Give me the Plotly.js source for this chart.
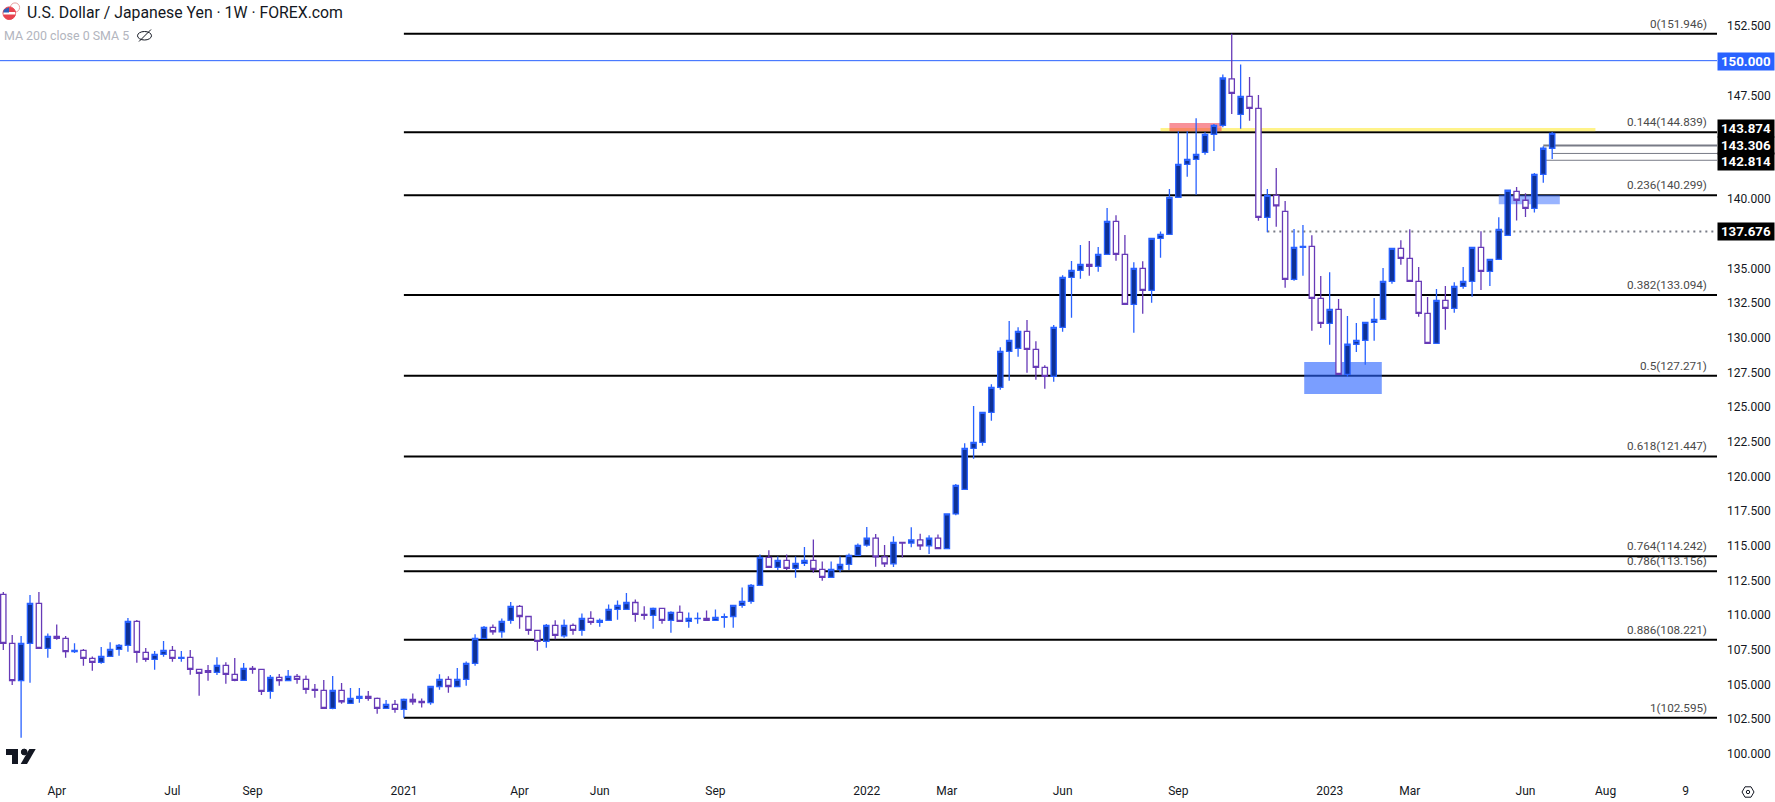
<!DOCTYPE html>
<html>
<head>
<meta charset="utf-8">
<title>USD/JPY weekly</title>
<script src="https://cdn.plot.ly/plotly-3.0.1.min.js"></script>
<style>
  html, body { margin: 0; padding: 0; background: #fff; overflow: hidden; }
  #myDiv { width: 1775px; height: 802px; }
</style>
</head>
<body>
<div id="myDiv"></div>
<script>
// weekly candles
var firstWeek = Date.UTC(2020, 1, 24);
var weekCount = 175;

var open = [
  111.50,107.96,105.27,107.96,110.85,107.60,108.46,108.32,107.36,107.45,
  106.88,106.59,107.02,107.53,107.81,109.55,107.31,106.80,107.16,107.45,
  106.88,106.95,106.08,105.99,105.87,106.37,105.72,105.29,106.15,106.08,
  104.50,105.51,105.27,105.58,105.36,104.64,104.57,103.27,104.57,103.63,
  103.99,104.13,103.99,103.27,103.56,103.20,103.92,103.77,103.68,104.85,
  105.36,104.85,105.36,106.51,108.32,109.11,108.80,109.62,110.63,109.90,
  108.90,108.10,109.26,108.51,109.26,108.90,109.76,109.47,109.62,110.41,
  110.41,110.91,110.05,109.98,110.48,109.62,110.19,109.54,109.74,109.76,
  109.62,109.83,109.90,110.70,110.99,112.14,114.16,113.44,113.95,113.37,
  113.73,113.95,113.30,112.72,113.30,113.66,114.31,115.05,115.55,114.20,
  113.70,115.25,115.20,115.42,115.00,115.55,114.80,117.30,119.07,122.03,
  122.46,124.63,126.43,129.03,129.24,130.47,129.17,127.87,127.22,130.76,
  134.37,134.87,135.30,135.16,136.03,138.41,136.03,132.42,135.02,133.43,
  137.18,137.47,140.14,142.52,142.88,143.38,144.68,145.33,148.68,146.12,
  147.43,146.56,138.69,140.28,139.13,134.22,136.53,136.60,132.85,131.05,
  132.06,127.37,129.54,129.82,131.12,131.34,134.08,136.46,135.74,134.08,
  131.77,129.61,132.71,132.13,133.72,134.08,136.53,134.80,135.67,137.40,
  140.57,139.93,139.35,141.80,143.68
];
var high = [
  111.66,108.56,108.49,111.45,111.66,108.68,109.33,108.49,107.96,107.55,
  107.02,107.69,108.05,107.91,109.79,109.64,107.62,107.41,108.13,107.77,
  107.41,107.48,106.08,106.40,106.95,106.59,106.90,106.54,106.32,106.08,
  105.67,105.75,106.03,105.75,105.65,105.02,105.31,105.60,105.10,104.74,
  104.74,104.52,104.06,103.87,103.87,103.99,104.35,103.99,104.85,105.74,
  105.58,106.18,106.66,108.61,109.21,109.33,109.76,110.94,110.72,109.90,
  108.90,109.35,109.62,109.69,109.40,110.12,110.27,109.76,110.77,111.06,
  111.59,111.13,110.63,110.55,110.48,110.27,110.70,110.19,110.19,110.34,
  110.41,110.12,110.70,112.00,112.24,114.38,114.67,114.23,114.38,114.23,
  114.91,115.46,113.87,113.87,114.23,114.45,115.17,116.35,115.85,115.06,
  115.68,115.25,116.34,115.86,115.76,115.81,117.35,119.45,122.39,125.08,
  124.63,126.65,129.32,131.22,130.76,131.29,129.75,128.02,130.93,134.51,
  135.54,136.70,136.99,136.55,139.37,138.84,137.42,135.45,135.52,137.18,
  137.68,140.74,144.90,144.90,145.84,144.83,145.43,149.00,151.946,149.73,
  148.82,147.52,140.74,142.25,139.87,137.86,138.15,137.40,134.47,134.73,
  132.81,131.58,131.08,131.12,132.88,135.04,136.46,137.04,137.83,135.12,
  132.95,133.53,133.74,134.01,135.12,136.53,137.69,135.67,138.70,140.65,
  140.89,140.43,141.90,143.82,144.86
];
var low = [
  107.48,104.95,101.15,105.12,107.60,106.92,108.22,106.92,107.26,106.35,
  105.99,106.49,107.02,107.07,107.36,106.56,106.64,106.06,107.00,106.64,
  106.64,105.70,104.18,105.27,105.67,105.05,105.22,105.29,105.77,104.23,
  103.97,104.90,105.27,105.05,104.33,104.04,103.22,103.20,103.61,103.63,
  103.68,103.82,102.88,103.27,102.96,102.60,103.53,103.34,103.53,104.61,
  104.40,104.85,104.90,106.35,108.32,108.58,108.37,109.38,109.01,108.58,
  107.43,107.64,108.25,108.37,108.58,108.51,109.30,109.16,109.62,109.66,
  110.41,109.52,109.66,109.01,109.38,108.73,109.54,109.09,109.38,109.62,
  109.62,109.09,109.09,110.53,110.82,112.14,113.44,113.25,113.25,112.69,
  113.54,113.06,112.48,112.72,113.10,113.25,114.31,114.93,113.48,113.47,
  113.47,114.16,114.90,114.70,114.40,114.80,114.80,117.20,119.07,121.28,
  122.22,124.02,126.26,126.91,128.64,127.49,126.98,126.33,126.84,130.45,
  131.46,134.27,134.49,134.77,136.03,135.57,132.42,130.37,131.74,132.54,
  135.78,137.47,140.14,141.63,140.33,143.21,143.48,145.19,146.15,145.09,
  145.67,138.45,137.63,138.02,133.62,134.13,134.49,130.52,130.71,129.51,
  127.37,127.20,128.98,128.07,129.80,131.34,133.91,135.28,134.08,131.53,
  129.61,129.61,130.59,131.82,133.55,132.97,133.46,133.74,135.67,137.40,
  138.46,138.72,139.04,141.20,142.91
];
var close = [
  107.96,105.27,107.96,110.85,107.60,108.46,108.32,107.36,107.45,106.88,
  106.59,107.02,107.53,107.81,109.55,107.31,106.80,107.16,107.45,106.88,
  106.95,106.08,105.79,105.87,106.37,105.72,105.29,106.15,106.08,104.50,
  105.51,105.27,105.58,105.36,104.64,104.57,103.27,104.57,103.75,103.99,
  104.13,103.99,103.27,103.56,103.20,103.92,103.75,103.68,104.85,105.36,
  104.85,105.36,106.51,108.32,109.11,108.80,109.54,110.63,109.90,108.90,
  108.10,109.26,108.53,109.26,108.90,109.76,109.47,109.62,110.41,110.70,
  110.91,110.05,109.98,110.48,109.62,110.19,109.54,109.76,109.76,109.62,
  109.83,109.88,110.70,110.99,112.14,114.16,113.44,113.95,113.37,113.73,
  113.95,113.30,112.72,113.30,113.66,114.31,115.03,115.55,114.20,113.70,
  115.25,115.20,115.42,115.00,115.55,114.80,117.30,119.36,122.03,122.46,
  124.63,126.43,129.03,129.82,130.47,129.17,127.87,127.22,130.76,134.37,
  134.87,135.30,135.16,136.03,138.41,136.03,132.42,135.02,133.43,137.18,
  137.47,140.14,142.52,142.88,143.24,144.68,145.33,148.75,147.64,147.43,
  146.56,138.69,140.28,139.53,134.22,136.53,136.60,132.85,131.05,132.06,
  127.37,129.54,129.82,131.12,131.34,134.08,136.46,135.74,134.08,131.77,
  129.61,132.71,132.13,133.72,134.08,136.53,134.80,135.67,137.83,140.65,
  139.93,139.35,141.80,143.68,144.76
];

// fib retracement levels drawn from the Jan 2021 low
var fibRatios = ['0','0.144','0.236','0.382','0.5','0.618','0.764','0.786','0.886','1'];
var fibLevels = [151.946,144.839,140.299,133.094,127.271,121.447,114.242,113.156,108.221,102.595];

// axis labels
var priceTicks = [152.5,147.5,140,135,132.5,130,127.5,125,122.5,120,117.5,115,112.5,110,107.5,105,102.5,100];
var timeTicks = ['2020-04-06','2020-07-06','2020-09-07','2021-01-04','2021-04-05','2021-06-07','2021-09-06','2022-01-03','2022-03-07','2022-06-06','2022-09-05','2023-01-02','2023-03-06','2023-06-05','2023-08-07','2023-10-09'];
var timeLabels = ['Apr','Jul','Sep','2021','Apr','Jun','Sep','2022','Mar','Jun','Sep','2023','Mar','Jun','Aug','9'];

var weeks = [];
for (var i = 0; i < weekCount; i++) {
  weeks.push(new Date(firstWeek + i * 7 * 86400000).toISOString().slice(0, 10));
}

var plotW = 1717, plotH = 772;
var xStart = '2020-02-21 09:36', xEnd = '2023-11-02 14:24';
var textFont = 'Roboto, sans-serif';
var ink = '#131722';

function X(px) { return px / plotW; }
function Y(py) { return 1 - py / plotH; }
function pxPath(pts, closed) {
  var s = pts.map(function (p, i) { return (i ? 'L' : 'M') + X(p[0]) + ' ' + Y(p[1]); }).join(' ');
  return s + (closed ? ' Z' : '');
}
function pxDot(cx, cy, r, fill, stroke) {
  return { type: 'circle', xref: 'paper', yref: 'paper', x0: X(cx - r), x1: X(cx + r), y0: Y(cy + r), y1: Y(cy - r),
    fillcolor: fill, line: { color: stroke || fill, width: 1 } };
}
function pxShape(pts, fill) {
  return { type: 'path', xref: 'paper', yref: 'paper', path: pxPath(pts, true), fillcolor: fill, line: { width: 0 } };
}

var shapes = [];
// fib lines go first, the zones sit on top of them
fibLevels.forEach(function (lv) {
  shapes.push({ type: 'line', layer: 'below', xref: 'x', yref: 'y', x0: '2021-01-04', x1: xEnd, y0: lv, y1: lv, line: { color: '#000', width: 2 } });
});
shapes.push({ type: 'line', layer: 'below', xref: 'paper', yref: 'y', x0: 0, x1: 1, y0: 150, y1: 150, line: { color: '#2962FF', width: 1 } });
shapes.push({ type: 'line', layer: 'below', xref: 'x', yref: 'y', x0: weeks[142], x1: xEnd, y0: 137.676, y1: 137.676, line: { color: '#787B86', width: 2, dash: '2px,4px' } });
shapes.push({ type: 'line', layer: 'below', xref: 'x', yref: 'y', x0: weeks[173], x1: xEnd, y0: 143.874, y1: 143.874, line: { color: '#787B86', width: 2 } });
shapes.push({ type: 'line', layer: 'below', xref: 'x', yref: 'y', x0: weeks[174], x1: xEnd, y0: 143.306, y1: 143.306, line: { color: '#787B86', width: 1 } });
shapes.push({ type: 'line', layer: 'below', xref: 'x', yref: 'y', x0: weeks[173], x1: xEnd, y0: 142.814, y1: 142.814, line: { color: '#787B86', width: 1 } });
shapes.push({ type: 'rect', layer: 'below', xref: 'x', yref: 'y', x0: '2022-08-22', x1: '2023-07-30', y0: 144.91, y1: 145.14, fillcolor: 'rgba(255,235,59,0.6)', line: { width: 0 } });
shapes.push({ type: 'rect', layer: 'below', xref: 'x', yref: 'y', x0: '2022-08-29', x1: '2022-10-09', y0: 144.91, y1: 145.5, fillcolor: 'rgba(242,54,69,0.55)', line: { width: 0 } });
shapes.push({ type: 'rect', layer: 'below', xref: 'x', yref: 'y', x0: '2022-12-13', x1: '2023-02-12', y0: 125.95, y1: 128.26, fillcolor: 'rgba(41,98,255,0.62)', line: { width: 0 } });
shapes.push({ type: 'rect', layer: 'below', xref: 'x', yref: 'y', x0: '2023-05-15', x1: '2023-07-02', y0: 139.65, y1: 140.3, fillcolor: 'rgba(41,98,255,0.48)', line: { width: 0 } });

// flag
shapes.push(pxDot(15, 7.5, 4.6, '#ffffff', '#e8a0a0'));
shapes.push(pxDot(9.3, 13.2, 6.3, '#e8434f'));
shapes.push(pxShape([[3.6, 12], [15.2, 12], [15.4, 14.6], [3.3, 14.6]], '#ffffff'));
shapes.push(pxShape([[4, 9.6], [9, 7.2], [9, 12.6], [3.2, 12.6]], '#2f5fb8'));
// hidden-eye icon next to the MA legend
shapes.push({ type: 'circle', xref: 'paper', yref: 'paper', x0: X(137.5), x1: X(151.5), y0: Y(40), y1: Y(31.5), line: { color: ink, width: 1 } });
shapes.push({ type: 'line', xref: 'paper', yref: 'paper', x0: X(139), x1: X(151), y0: Y(41.5), y1: Y(29.5), line: { color: ink, width: 1 } });
// TV logo
shapes.push(pxShape([[6, 749], [18, 749], [18, 764], [12, 764], [12, 755], [6, 755]], ink));
shapes.push(pxDot(24.2, 752, 2.9, ink));
shapes.push(pxShape([[29.3, 749], [35.7, 749], [27, 764], [20.7, 764]], ink));
// settings icon
shapes.push({ type: 'path', xref: 'paper', yref: 'paper', path: pxPath([[1742, 792], [1745, 786.8], [1751, 786.8], [1754, 792], [1751, 797.2], [1745, 797.2]], true), line: { color: ink, width: 1 } });
shapes.push(pxDot(1748, 792, 1.7, 'rgba(0,0,0,0)', ink));

var annotations = [];
fibRatios.forEach(function (r, k) {
  annotations.push({ xref: 'paper', yref: 'y', x: 1, y: fibLevels[k], xshift: -9, yshift: 10, xanchor: 'right', showarrow: false,
    text: r + '(' + fibLevels[k].toFixed(3) + ')', font: { family: textFont, size: 11.7, color: '#4a4a4a' }, borderpad: 0 });
});
function priceTag(txt, py, bg) {
  annotations.push({ xref: 'paper', yref: 'paper', x: 1, y: Y(py), xanchor: 'left', yanchor: 'middle', showarrow: false, text: txt,
    width: 56, height: 17, align: 'center', bgcolor: bg, borderpad: 0, font: { family: textFont, size: 13.3, color: '#fff' } });
}
priceTag('<b>150.000</b>', 61.3, '#2962FF');
priceTag('<b>143.874</b>', 128, '#000');
priceTag('<b>143.306</b>', 145, '#000');
priceTag('<b>142.814</b>', 161.7, '#000');
priceTag('<b>137.676</b>', 231.5, '#000');
annotations.push({ xref: 'paper', yref: 'paper', x: X(25.5), y: Y(12), xanchor: 'left', yanchor: 'middle', showarrow: false, borderpad: 0,
  text: 'U.S. Dollar / Japanese Yen · 1W · FOREX.com', font: { family: textFont, size: 15.8, color: ink } });
annotations.push({ xref: 'paper', yref: 'paper', x: X(2.5), y: Y(35.7), xanchor: 'left', yanchor: 'middle', showarrow: false, borderpad: 0,
  text: 'MA 200 close 0 SMA 5', font: { family: textFont, size: 12.4, color: '#B2B5BE' } });

var trace = {
  type: 'candlestick',
  x: weeks,
  open: open,
  high: high,
  low: low,
  close: close,
  increasing: { line: { color: '#2962FF', width: 1.3 }, fillcolor: '#0E3196' },
  decreasing: { line: { color: '#673AB7', width: 1.3 }, fillcolor: '#FFFFFF' },
  hoverinfo: 'skip',
  showlegend: false
};

var layout = {
  width: 1775,
  height: 802,
  margin: { l: 0, r: 58, t: 0, b: 30, pad: 0 },
  paper_bgcolor: '#fff',
  plot_bgcolor: '#fff',
  showlegend: false,
  boxgap: 0.15,
  xaxis: {
    type: 'date',
    range: [xStart, xEnd],
    rangeslider: { visible: false },
    showgrid: false,
    zeroline: false,
    showline: false,
    ticks: '',
    tickmode: 'array',
    tickvals: timeTicks,
    ticktext: timeLabels,
    ticklabelstandoff: 10,
    tickfont: { family: textFont, size: 12, color: ink }
  },
  yaxis: {
    side: 'right',
    range: [98.68, 154.377],
    showgrid: false,
    zeroline: false,
    showline: false,
    ticks: '',
    tickmode: 'array',
    tickvals: priceTicks,
    tickformat: '.3f',
    ticklabelstandoff: 9,
    tickfont: { family: textFont, size: 12, color: ink }
  },
  shapes: shapes,
  annotations: annotations
};

Plotly.newPlot('myDiv', [trace], layout, { displayModeBar: false, staticPlot: true });
</script>
</body>
</html>
